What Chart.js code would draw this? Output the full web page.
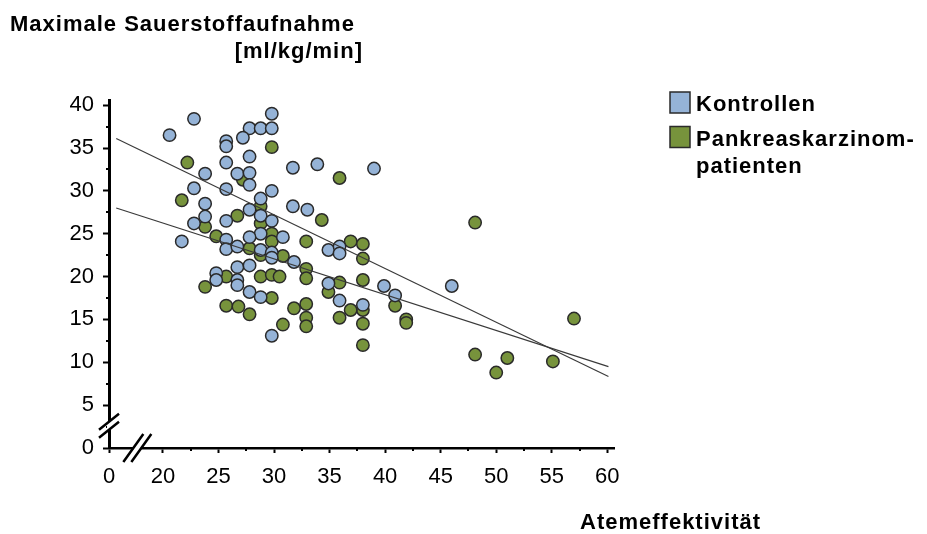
<!DOCTYPE html>
<html>
<head>
<meta charset="utf-8">
<script src="https://cdn.jsdelivr.net/npm/chart.js@4.4.1/dist/chart.umd.min.js"></script>
<style>
  html, body { margin: 0; padding: 0; background: #fff; }
  #chart { display: block; }
</style>
</head>
<body>
<canvas id="chart" width="927" height="534"></canvas>
<script>
const titleLines = ["Maximale Sauerstoffaufnahme", "[ml/kg/min]"];
const xAxisTitle = "Atemeffektivität";
const seriesNames = ["Kontrollen", ["Pankreaskarzinom-", "patienten"]];

const kontrollenX = [20.6, 22.8, 25.7, 25.7, 27.8, 28.8, 29.8, 29.8, 27.2, 27.8, 25.7, 26.7, 27.8, 27.8, 23.8,
  22.8, 25.7, 29.8, 23.8, 28.8, 27.8, 23.8, 22.8, 25.7, 28.8, 29.8, 31.7, 33.9, 39.0, 31.7, 33.0, 28.8, 30.8,
  25.7, 25.7, 26.7, 27.8, 28.8, 29.8, 29.8, 31.8, 24.8, 24.8, 26.7, 27.8, 26.7, 26.7, 27.8, 28.8, 29.8, 21.7,
  34.9, 35.9, 35.9, 34.9, 39.9, 40.9, 35.9, 38.0, 46.0];
const kontrollenY = [36.5, 38.4, 35.8, 35.2, 37.3, 37.3, 37.3, 39.0, 36.2, 34.0, 33.3, 32.0, 32.1, 30.7, 32.0,
  30.3, 30.2, 30.0, 28.5, 29.1, 27.8, 27.0, 26.2, 26.5, 27.1, 26.5, 32.7, 33.1, 32.6, 28.2, 27.8, 25.0, 24.6,
  24.3, 23.2, 23.5, 24.6, 23.1, 22.8, 22.2, 21.7, 20.4, 19.6, 21.1, 21.3, 19.6, 19.0, 18.2, 17.6, 13.1, 24.1,
  23.1, 23.5, 22.7, 19.2, 18.9, 17.8, 17.2, 16.7, 18.9];

const patientenX = [29.8, 22.2, 27.2, 21.7, 26.7, 28.8, 23.8, 28.8, 35.9, 34.3, 29.8, 24.8, 27.8, 29.8, 28.8,
  30.8, 32.9, 32.9, 32.9, 25.7, 23.8, 28.8, 29.8, 30.5, 29.8, 25.7, 26.8, 27.8, 31.8, 32.9, 32.9, 32.9, 30.8,
  36.9, 38.0, 38.0, 35.9, 34.9, 38.0, 40.9, 38.0, 36.9, 35.9, 38.0, 41.9, 41.9, 38.0, 48.1, 57.0, 48.1, 51.0,
  50.0, 55.1];
const patientenY = [35.1, 33.3, 31.3, 28.9, 27.1, 28.2, 25.8, 26.2, 31.5, 26.6, 25.0, 24.7, 23.3, 24.1, 22.5,
  22.4, 24.1, 20.9, 19.8, 20.0, 18.8, 20.0, 20.2, 20.0, 17.5, 16.6, 16.5, 15.6, 16.3, 16.8, 15.2, 14.2, 14.4,
  24.1, 23.8, 22.1, 19.3, 18.2, 19.6, 16.6, 16.1, 16.1, 15.2, 14.5, 15.0, 14.6, 12.0, 26.3, 15.1, 10.9, 10.5,
  8.8, 10.1];

// Regressionsgeraden (Endpunkte)
const trendX = [15.8, 60.1];
const trendKontrollenY = [36.1, 8.35];
const trendPatientenY = [28.0, 9.5];

const xTickValues = [20, 25, 30, 35, 40, 45, 50, 55, 60];
const yTickValues = [0, 5, 10, 15, 20, 25, 30, 35, 40];

const xMin = 15.15, xMax = 60.6, yMin = 0, yMax = 40.6;
const blue = "#95b3d7", green = "#77933c", edge = "#2a2a2a";
const font = '"Liberation Sans", Arial, sans-serif';

const toPoints = (xs, ys) => xs.map((x, i) => ({ x: x, y: ys[i] }));

const withMinor = (vals) => {
  const out = [];
  for (let i = 0; i < vals.length; i++) {
    out.push(vals[i]);
    if (i < vals.length - 1) out.push((vals[i] + vals[i + 1]) / 2);
  }
  return out;
};
const isMajor = (v) => v === xMin || v % 5 === 0;

const extras = {
  id: "extras",
  afterDraw(chart) {
    const ctx = chart.ctx;
    const xs = chart.scales.x, ys = chart.scales.y;
    const ax = chart.chartArea.left, ay = chart.chartArea.bottom;
    ctx.save();

    // kurze Zwischenstriche
    ctx.strokeStyle = "#000";
    ctx.lineWidth = 2;
    ctx.beginPath();
    withMinor(xTickValues).filter((v) => !isMajor(v)).forEach((v) => {
      const px = Math.round(xs.getPixelForValue(v));
      ctx.moveTo(px, ay);
      ctx.lineTo(px, ay + 3);
    });
    withMinor(yTickValues).filter((v) => !isMajor(v)).forEach((v) => {
      const py = Math.round(ys.getPixelForValue(v));
      ctx.moveTo(ax, py);
      ctx.lineTo(ax - 3, py);
    });
    ctx.stroke();

    // axis breaks
    const by = ys.getPixelForValue(2.6);
    const bx = xs.getPixelForValue(17.7);
    ctx.fillStyle = "#fff";
    ctx.fillRect(ax - 2, by - 4, 4, 8);
    ctx.fillRect(bx - 4, ay - 2, 8, 4);
    ctx.lineWidth = 2.5;
    ctx.beginPath();
    [-4, 4].forEach((d) => {
      ctx.moveTo(ax - 10, by + d + 8);
      ctx.lineTo(ax + 10, by + d - 8);
      ctx.moveTo(bx + d - 10, ay + 14);
      ctx.lineTo(bx + d + 10, ay - 14);
    });
    ctx.stroke();

    // titles
    ctx.fillStyle = "#000";
    ctx.font = "bold 22px " + font;
    ctx.letterSpacing = "1px";
    ctx.textBaseline = "alphabetic";
    ctx.textAlign = "left";
    ctx.fillText(titleLines[0], 10, 31);
    ctx.textAlign = "right";
    ctx.fillText(titleLines[1], 363, 58);
    ctx.textAlign = "left";
    ctx.fillText(xAxisTitle, 580, 529);

    // legend
    const colors = [blue, green];
    let ly = 92;
    seriesNames.forEach((name, i) => {
      ctx.fillStyle = colors[i];
      ctx.fillRect(670, ly, 20, 21);
      ctx.strokeStyle = edge;
      ctx.lineWidth = 1.5;
      ctx.strokeRect(670, ly, 20, 21);
      ctx.fillStyle = "#000";
      const lines = Array.isArray(name) ? name : [name];
      lines.forEach((t, j) => ctx.fillText(t, 696, ly + 19 + j * 27));
      ly += 34.5;
    });
    ctx.restore();
  }
};

new Chart(document.getElementById("chart"), {
  type: "scatter",
  data: {
    datasets: [
      {
        label: "Trend Kontrollen",
        data: toPoints(trendX, trendKontrollenY),
        showLine: true,
        borderColor: "#3a3a3a",
        borderWidth: 1.2,
        pointRadius: 0,
        order: 0
      },
      {
        label: "Trend Patienten",
        data: toPoints(trendX, trendPatientenY),
        showLine: true,
        borderColor: "#3a3a3a",
        borderWidth: 1.2,
        pointRadius: 0,
        order: 0
      },
      {
        label: "Kontrollen",
        data: toPoints(kontrollenX, kontrollenY),
        backgroundColor: blue,
        borderColor: edge,
        borderWidth: 1.5,
        pointRadius: 6.2,
        order: 1
      },
      {
        label: "Pankreaskarzinompatienten",
        data: toPoints(patientenX, patientenY),
        backgroundColor: green,
        borderColor: edge,
        borderWidth: 1.5,
        pointRadius: 6.2,
        order: 2
      }
    ]
  },
  options: {
    responsive: false,
    animation: false,
    devicePixelRatio: 1,
    layout: { padding: { left: 0, top: 100, right: 313, bottom: 0 } },
    plugins: {
      legend: { display: false },
      tooltip: { enabled: false }
    },
    scales: {
      x: {
        type: "linear",
        min: xMin,
        max: xMax,
        afterBuildTicks: (scale) => {
          scale.ticks = [{ value: xMin }].concat(withMinor(xTickValues).map((v) => ({ value: v })));
        },
        afterFit: (scale) => { scale.height = 534 - 448; },
        ticks: {
          autoSkip: false,
          maxRotation: 0,
          padding: 11,
          color: "#000",
          font: { family: font, size: 22 },
          callback: (v) => (isMajor(v) ? (v === xMin ? "0" : String(v)) : "")
        },
        grid: {
          drawOnChartArea: false,
          tickLength: 5,
          tickWidth: 2,
          tickColor: (c) => (c.tick && isMajor(c.tick.value) ? "#000" : "rgba(0,0,0,0)")
        },
        border: { display: true, color: "#000", width: 2.5 }
      },
      y: {
        type: "linear",
        min: yMin,
        max: yMax,
        afterBuildTicks: (scale) => {
          scale.ticks = withMinor(yTickValues).map((v) => ({ value: v }));
        },
        afterFit: (scale) => { scale.width = 109; },
        ticks: {
          autoSkip: false,
          padding: 9,
          color: "#000",
          font: { family: font, size: 22 },
          callback: (v) => (v % 5 === 0 ? String(v) : "")
        },
        grid: {
          drawOnChartArea: false,
          tickLength: 6,
          tickWidth: 2,
          tickColor: (c) => (c.tick && c.tick.value % 5 === 0 ? "#000" : "rgba(0,0,0,0)")
        },
        border: { display: true, color: "#000", width: 3 }
      }
    }
  },
  plugins: [extras]
});
</script>
</body>
</html>
